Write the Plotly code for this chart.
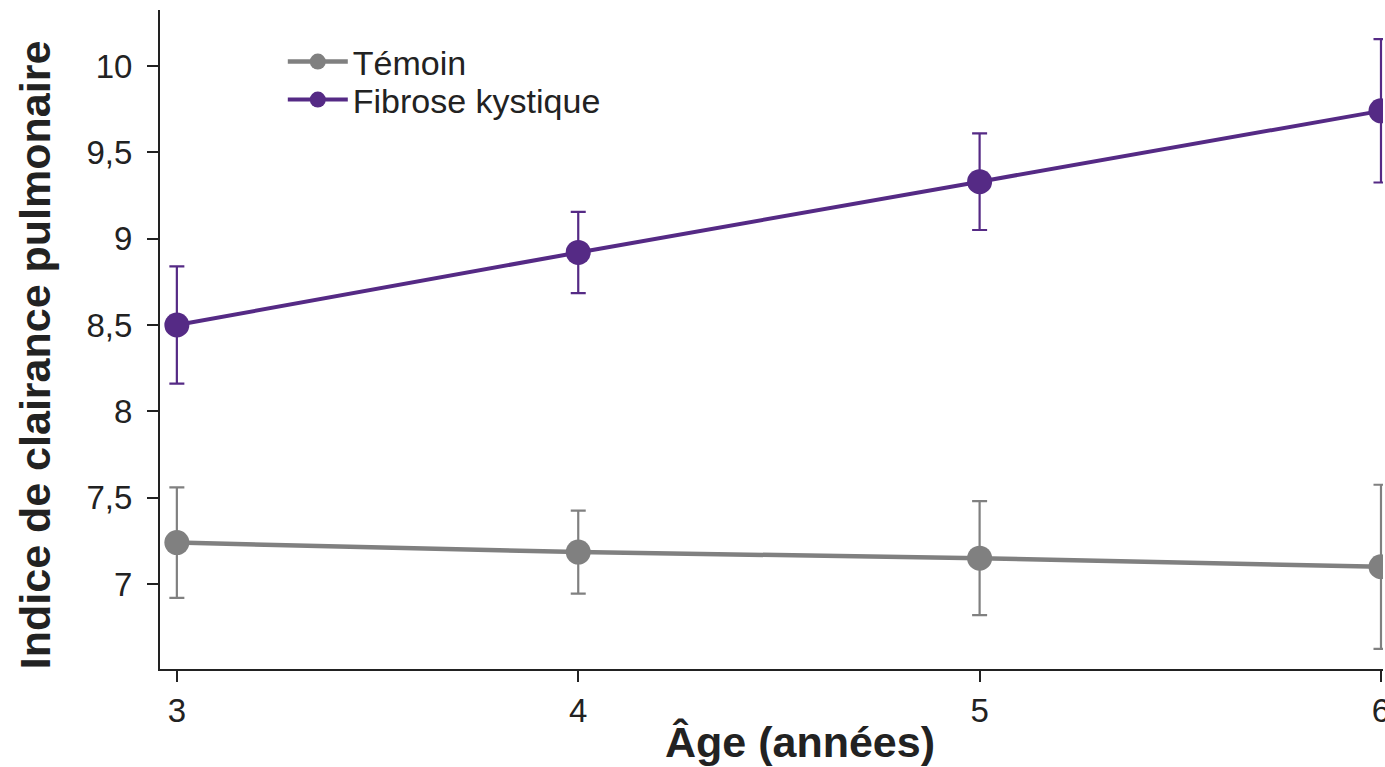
import plotly.graph_objects as go

ages = [3, 4, 5, 6]
temoin = [7.24, 7.185, 7.15, 7.10]
temoin_err = [0.32, 0.24, 0.33, 0.475]
fibrose = [8.50, 8.92, 9.33, 9.74]
fibrose_err = [0.34, 0.235, 0.28, 0.415]
y_ticks = [7, 7.5, 8, 8.5, 9, 9.5, 10]
y_labels = ["7", "7,5", "8", "8,5", "9", "9,5", "10"]

GRAY = "#808080"
PURPLE = "#552a85"
TXT = "#222222"

W_PLOT = 1225  # plot-area width in px
fig = go.Figure()
fig.add_trace(go.Scatter(
    x=ages, y=temoin, name="Témoin", mode="lines+markers",
    line=dict(color=GRAY, width=4.5),
    marker=dict(color=GRAY, size=25),
    error_y=dict(type="data", array=temoin_err, color=GRAY, thickness=2.2, width=7.5),
    legend="legend",
))
fig.add_trace(go.Scatter(
    x=ages, y=fibrose, name="Fibrose kystique", mode="lines+markers",
    line=dict(color=PURPLE, width=4),
    marker=dict(color=PURPLE, size=25),
    error_y=dict(type="data", array=fibrose_err, color=PURPLE, thickness=2.2, width=7.5),
    legend="legend2",
))

leg_common = dict(xanchor="left", yanchor="top", font=dict(size=34, color=TXT),
                  bgcolor="rgba(0,0,0,0)", itemwidth=60)

fig.update_layout(
    width=1400, height=767,
    margin=dict(l=160, r=15, t=10, b=98),
    paper_bgcolor="white", plot_bgcolor="white",
    font=dict(family="Liberation Sans, Arial, sans-serif", color=TXT),
    showlegend=True,
    legend=dict(x=(283 - 160) / W_PLOT, y=(669 - 33) / 659, **leg_common),
    legend2=dict(x=(283 - 160) / W_PLOT, y=(669 - 71) / 659, **leg_common),
    xaxis=dict(range=[2.958, 6.005], tickvals=ages, ticktext=[str(a) for a in ages],
               showgrid=False, zeroline=False, showline=True, linecolor=TXT,
               linewidth=2, ticks="outside", ticklen=11, tickwidth=2, tickcolor=TXT,
               tickfont=dict(size=33, color=TXT)),
    yaxis=dict(range=[6.508, 10.324], tickvals=y_ticks, ticktext=y_labels,
               showgrid=False, zeroline=False, showline=True, linecolor=TXT,
               linewidth=2, ticks="outside", ticklen=11, tickwidth=2, tickcolor=TXT,
               tickfont=dict(size=33, color=TXT), ticklabelstandoff=8),
    annotations=[
        dict(text="<b>Âge (années)</b>", xref="paper", yref="paper",
             x=(801 - 160) / W_PLOT, y=(669 - 742) / 659, xanchor="center", yanchor="middle",
             showarrow=False, font=dict(size=43, color=TXT)),
        dict(text="<b>Indice de clairance pulmonaire</b>", xref="paper", yref="paper",
             x=(35 - 160) / W_PLOT, y=(669 - 355) / 659, xanchor="center", yanchor="middle",
             textangle=-90, showarrow=False, font=dict(size=43, color=TXT)),
    ],
)

post = ("document.body.style.margin='0';document.body.style.padding='0';"
        "document.body.style.overflow='hidden';"
        "document.documentElement.style.overflow='hidden';")
fig.write_html("out.html", post_script=post, config={"displayModeBar": False})
